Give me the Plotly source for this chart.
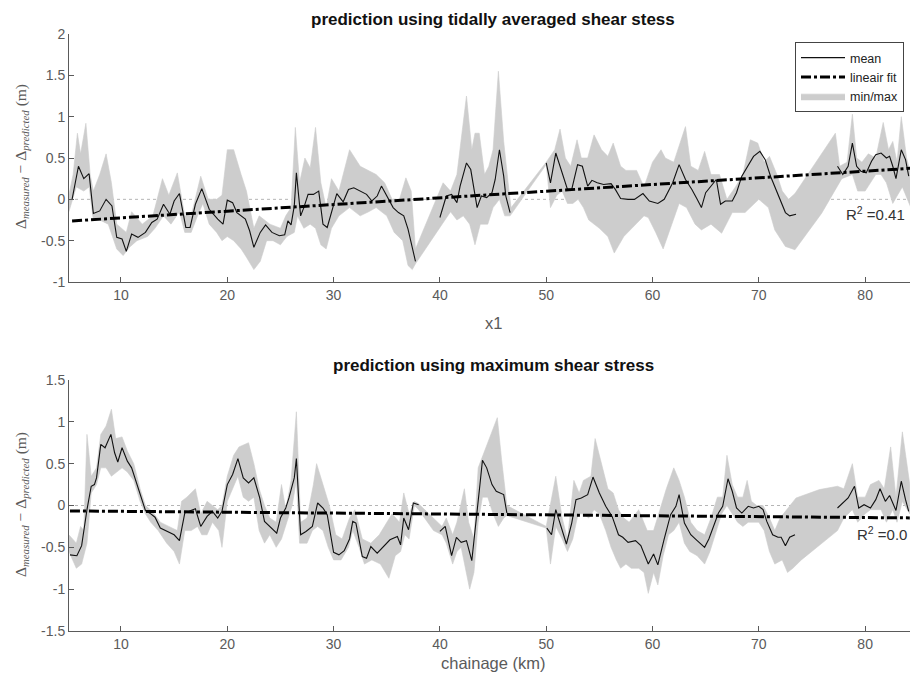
import plotly.graph_objects as go

# ---------------- data: top panel (tidally averaged shear stress) ----------------
top_mean_x = [5.4,6.0,6.5,7.0,7.4,8.0,8.6,9.15,9.6,10.1,10.5,11.0,11.6,12.3,12.9,13.4,14.0,14.6,15.0,15.5,
              16.1,16.5,17.0,17.6,18.3,19.1,19.6,20.0,20.5,20.9,21.7,22.1,22.5,23.1,23.6,24.2,24.9,25.4,25.7,26.0,
              26.3,26.5,26.9,27.2,27.6,28.1,28.6,29.0,29.4,29.9,30.3,30.9,31.4,31.9,32.5,33.1,33.6,34.1,34.5,35.0,
              35.6,36.1,36.6,37.0,37.7, None,
              40.0,40.6,41.1,41.6,41.9,42.5,42.9,43.3,43.5,43.9,44.4,44.9,45.2,45.6,46.0,46.2,46.6, None,
              50.0,50.4,50.9,51.5,52.0,52.4,52.95,53.4,53.9,54.3,54.8,55.4,56.1,56.5,57.0,57.7,58.3,59.1,59.7,60.5,
              61.1,61.9,62.5,63.1,63.7,64.2,64.6,65.0,65.5,66.0,66.4,66.85,67.5,67.9,68.4,69.0,69.5,70.1,70.6,71.1,
              71.7,72.1,72.5,72.9,73.5, None,
              77.4,77.9,78.4,78.8,79.2,79.6,80.1,80.6,81.0,81.5,82.0,82.3,82.6,82.9,83.4,83.8,84.1]
top_mean_y = [0.0,0.40,0.25,0.31,-0.17,-0.14,0.0,-0.08,-0.46,-0.48,-0.63,-0.42,-0.46,-0.40,-0.28,-0.24,-0.06,-0.18,-0.02,0.07,
              -0.34,-0.34,-0.06,0.13,-0.12,-0.24,-0.30,-0.01,-0.04,-0.16,-0.24,-0.38,-0.58,-0.40,-0.31,-0.40,-0.44,-0.43,-0.26,-0.31,
              -0.08,0.32,-0.20,-0.10,0.06,0.06,0.10,-0.30,-0.34,-0.11,0.07,-0.03,0.12,0.14,0.10,0.06,-0.02,0.04,0.16,0.04,
              -0.10,-0.16,-0.20,-0.36,-0.75, None,
              -0.22,0.04,0.06,-0.04,0.16,0.44,0.36,0.08,-0.10,0.04,0.02,0.08,0.24,0.60,0.28,0.04,-0.16, None,
              0.44,0.20,0.56,0.32,0.12,0.12,0.42,0.40,0.16,0.23,0.20,0.18,0.19,0.12,0.01,0.0,0.0,0.07,-0.02,-0.05,
              0.0,0.20,0.42,0.24,0.12,0.0,-0.10,0.08,0.16,0.24,-0.06,-0.02,-0.02,0.08,0.28,0.42,0.52,0.58,0.48,0.28,
              0.10,-0.02,-0.16,-0.20,-0.18, None,
              0.40,0.30,0.40,0.68,0.40,0.34,0.32,0.46,0.54,0.56,0.50,0.52,0.40,0.25,0.60,0.48,0.28]

top_upper_x = [5.1,5.5,5.9,6.2,6.7,7.1,7.4,8.0,8.6,9.1,9.6,10.5,11.0,12.0,13.0,13.9,14.5,15.3,16.0,16.6,
               17.5,18.2,19.0,19.5,20.0,20.6,21.3,21.8,22.5,23.0,24.0,25.0,25.5,26.0,26.4,26.8,27.3,27.8,28.3,28.8,
               29.3,29.8,30.5,31.5,32.5,33.2,34.0,34.8,35.5,36.2,36.8,37.3,37.7,40.3,41.0,41.6,42.5,43.0,43.3,43.7,
               44.2,44.6,45.0,45.5,46.0,46.5,46.7,50.0,50.8,51.3,51.8,52.3,52.9,53.3,53.9,54.5,55.2,55.8,56.3,57.0,
               57.5,58.5,59.2,60.0,60.8,61.2,62.0,63.1,63.6,64.3,64.9,65.5,66.3,67.0,67.8,68.5,69.2,69.9,70.5,71.0,
               71.7,72.2,72.8,73.4,77.2,77.6,78.3,78.8,79.2,79.7,80.3,81.0,81.7,82.2,82.6,83.0,83.4,83.9,84.3]
top_upper_y = [0.05,0.3,0.8,0.55,0.92,0.3,0.1,0.3,0.55,0.2,-0.3,-0.4,-0.15,-0.3,-0.2,0.25,0.05,0.32,-0.2,-0.2,
               0.28,0.0,0.0,0.05,0.6,0.6,0.3,0.1,-0.35,-0.2,-0.3,-0.35,-0.2,-0.1,0.87,0.2,0.5,0.38,0.87,0.2,
               -0.1,0.25,0.1,0.6,0.4,0.35,0.3,0.2,0.0,0.0,0.26,0.1,-0.6,0.2,0.1,0.3,1.25,0.6,0.8,0.8,
               0.3,0.4,0.6,1.55,0.7,0.1,-0.1,0.45,0.6,0.85,0.5,0.4,0.72,0.5,0.5,0.78,0.6,0.52,0.68,0.4,
               0.35,0.35,0.15,0.45,0.6,0.5,0.45,0.88,0.4,0.35,0.58,0.3,0.3,0.0,0.15,0.3,0.72,0.68,0.45,0.52,
               0.3,0.1,0.0,0.07,0.8,0.4,0.45,1.03,0.5,0.45,0.55,0.5,0.93,0.6,0.7,0.45,1.0,0.5,0.3]

top_lower_x = [5.1,5.8,6.5,7.0,7.4,8.0,8.8,9.2,9.6,10.2,10.8,11.5,12.5,13.2,14.0,14.7,15.5,16.0,16.6,17.2,
               17.7,18.3,19.0,19.5,20.0,20.6,21.3,21.8,22.5,23.1,23.7,24.3,25.0,25.6,26.3,26.6,27.2,27.8,28.3,28.8,
               29.3,29.8,30.5,31.5,32.5,33.3,34.0,35.0,35.7,36.5,37.0,37.4,37.7,40.2,41.0,41.6,42.2,42.8,43.3,43.8,
               44.5,45.0,45.6,46.1,46.6,50.0,50.4,51.0,51.5,52.0,52.5,53.0,53.5,54.0,55.0,55.8,56.4,57.3,58.0,59.2,
               59.6,60.3,61.0,61.8,62.5,63.2,64.0,64.6,65.5,66.5,67.5,68.7,70.0,70.9,71.5,72.5,73.4,75.9,77.8,78.8,
               79.3,80.0,80.5,81.0,81.5,82.0,82.6,83.0,83.5,84.3]
top_lower_y = [-0.15,0.15,0.1,0.15,-0.25,-0.25,-0.3,-0.45,-0.6,-0.68,-0.58,-0.5,-0.45,-0.35,-0.2,-0.3,-0.15,-0.4,-0.4,-0.2,
               -0.05,-0.3,-0.4,-0.5,-0.45,-0.5,-0.6,-0.7,-0.85,-0.75,-0.5,-0.5,-0.55,-0.45,-0.4,-0.2,-0.35,-0.3,-0.35,-0.55,
               -0.6,-0.35,-0.2,-0.1,-0.2,-0.15,-0.1,-0.2,-0.4,-0.5,-0.8,-0.85,-0.78,-0.3,-0.15,-0.25,-0.2,-0.3,-0.55,-0.3,
               -0.3,-0.1,0.0,-0.2,-0.2,0.42,-0.1,0.05,0.1,-0.05,-0.05,0.0,-0.1,-0.25,-0.35,-0.45,-0.65,-0.45,-0.35,-0.2,
               -0.22,-0.4,-0.6,-0.3,-0.05,-0.1,-0.3,-0.37,-0.3,-0.41,-0.16,-0.16,0.0,-0.1,-0.37,-0.57,-0.61,-0.17,0.25,0.3,
               0.1,0.1,0.2,0.3,0.3,0.2,-0.05,0.04,0.15,-0.1]

top_fit_slope = 0.00807
top_fit_intercept = -0.305
top_r2 = "0.41"

# ---------------- data: bottom panel (maximum shear stress) ----------------
bot_mean_x = [5.2,5.85,6.3,6.8,7.2,7.5,7.7,8.1,8.5,8.8,9.05,9.4,9.7,10.1,10.6,11.0,11.4,11.8,12.3,12.8,
              13.2,13.7,14.3,15.0,15.5,16.0,16.4,17.0,17.5,18.1,18.6,19.1,19.5,20.0,20.5,21.0,21.5,22.0,22.5,23.05,
              23.5,24.0,24.65,25.0,25.5,25.8,26.3,26.5,26.9,27.4,28.0,28.5,29.0,29.4,30.0,30.5,31.0,31.5,31.8,32.1,
              32.7,33.1,33.5,34.1,34.7,35.3,36.0,36.3,36.6,37.05,37.5,38.0, None,
              40.0,40.5,41.1,41.55,42.0,42.5,43.0,43.5,43.8,44.0,44.4,44.9,45.3,46.0,46.3, None,
              50.06,50.5,50.9,51.4,51.9,52.4,52.8,53.3,53.9,54.4,55.0,55.6,56.2,56.8,57.2,57.7,58.4,58.9,59.6,60.1,
              60.5,61.1,61.7,62.2,62.5,63.0,63.6,64.2,64.9,65.3,65.8,66.2,66.6,67.1,67.5,67.9,68.4,69.0,69.5,70.0,
              70.4,70.75,71.3,71.8,72.1,72.5,72.9,73.4, None,
              77.4,77.9,78.4,79.0,79.4,79.9,80.5,81.0,81.4,81.9,82.3,82.9,83.4,83.8,84.1]
bot_mean_y = [-0.59,-0.60,-0.48,-0.05,0.23,0.25,0.33,0.73,0.69,0.79,0.85,0.63,0.52,0.69,0.53,0.45,0.29,0.12,-0.06,-0.10,
              -0.14,-0.27,-0.31,-0.35,-0.42,-0.09,-0.07,-0.04,-0.25,-0.13,-0.07,-0.15,-0.07,0.25,0.37,0.56,0.33,0.27,0.33,0.09,
              -0.19,-0.25,-0.33,-0.15,-0.03,0.09,0.33,0.56,-0.35,-0.31,-0.25,0.03,-0.03,-0.11,-0.56,-0.59,-0.54,-0.40,-0.19,-0.21,
              -0.61,-0.63,-0.49,-0.57,-0.49,-0.41,-0.37,-0.47,-0.15,-0.29,0.03,0.01, None,
              -0.31,-0.25,-0.60,-0.38,-0.44,-0.42,-0.66,-0.11,0.29,0.54,0.45,0.25,0.17,0.13,-0.09, None,
              -0.27,-0.35,-0.05,-0.27,-0.46,-0.21,0.07,0.09,0.13,0.34,0.15,-0.01,-0.13,-0.35,-0.38,-0.44,-0.42,-0.48,-0.70,-0.58,
              -0.71,-0.40,-0.11,-0.01,0.13,-0.21,-0.35,-0.42,-0.50,-0.40,-0.23,-0.09,-0.01,0.32,0.17,-0.03,-0.09,-0.01,-0.03,-0.01,
              -0.05,-0.19,-0.35,-0.38,-0.38,-0.48,-0.38,-0.35, None,
              -0.03,0.03,0.09,0.23,-0.03,0.01,-0.03,0.07,0.20,0.05,0.12,-0.06,0.29,0.07,-0.07]

bot_upper_x = [5.1,5.8,6.2,6.5,6.8,7.2,7.7,8.1,8.6,9.1,9.5,10.1,10.6,11.2,11.8,12.3,13.0,13.7,14.5,15.3,
               15.7,16.2,17.0,17.5,18.1,18.6,19.1,19.5,20.0,20.6,21.1,22.0,22.5,23.0,23.5,24.0,24.6,25.1,25.5,26.0,
               26.5,26.9,27.5,28.1,28.4,29.0,29.6,30.2,30.8,31.5,32.0,32.7,33.5,34.3,35.0,35.5,36.2,36.6,37.1,37.6,
               38.0,39.4,40.2,40.6,41.2,41.6,42.3,42.7,43.2,43.6,44.5,45.4,45.8,46.3,50.0,50.9,51.5,52.0,52.6,53.1,
               53.5,54.2,54.6,55.2,55.8,56.3,56.8,57.3,57.8,58.7,59.5,60.1,60.6,61.3,62.0,62.5,63.0,63.6,64.2,64.9,
               65.5,66.1,66.6,67.0,67.5,68.0,68.5,68.9,69.3,69.8,70.4,71.0,71.5,72.0,73.5,75.7,77.4,78.0,78.8,79.3,
               80.0,80.5,81.3,81.8,82.4,82.9,83.5,84.2]
bot_upper_y = [-0.35,-0.45,-0.25,-0.3,0.85,0.35,0.45,0.85,0.95,1.15,0.8,0.82,0.65,0.5,0.2,0.0,-0.08,-0.2,-0.25,-0.3,
               0.05,0.1,0.2,-0.1,0.05,0.0,-0.05,0.0,0.35,0.6,0.7,0.75,0.5,0.2,0.0,-0.15,-0.2,0.25,-0.05,0.3,
               1.12,-0.2,-0.15,0.25,0.5,0.25,0.0,-0.35,-0.4,-0.15,-0.05,-0.4,-0.45,-0.35,-0.2,-0.1,-0.2,0.15,-0.1,0.05,
               0.02,-0.15,-0.25,-0.15,-0.35,-0.2,0.2,-0.2,-0.4,0.45,0.75,1.05,0.55,0.0,-0.25,0.35,-0.15,-0.4,0.3,0.15,
               0.3,0.35,0.8,0.5,0.2,0.15,-0.05,-0.15,-0.2,-0.05,-0.3,-0.3,-0.1,0.2,0.45,0.3,0.1,-0.2,-0.3,-0.35,
               -0.15,0.1,0.1,0.6,0.25,0.1,0.1,0.3,0.05,0.0,0.0,-0.15,-0.3,-0.15,0.09,0.19,0.23,0.2,0.5,0.1,
               0.1,0.25,0.3,0.2,0.7,0.1,0.88,0.25]

bot_lower_x = [5.1,5.8,6.3,6.8,7.2,7.7,8.1,8.6,9.1,9.6,10.1,10.6,11.2,11.8,12.3,12.8,13.5,14.3,15.0,15.5,
               16.0,16.6,17.2,17.6,18.1,18.6,19.2,19.5,20.0,20.5,21.0,21.5,22.0,22.5,23.0,23.5,24.0,24.6,25.1,25.6,
               26.1,26.5,26.8,27.5,28.0,28.5,29.0,29.5,30.0,30.7,31.4,31.8,32.4,32.9,33.6,34.4,35.2,35.8,36.3,36.7,
               37.1,37.6,38.0,39.4,40.2,40.6,41.2,41.6,42.0,42.5,42.8,43.2,43.6,44.0,44.5,45.0,45.5,46.0,46.3,50.0,
               50.4,50.9,51.5,52.0,52.5,53.0,53.5,54.0,54.5,55.0,55.6,56.1,56.6,57.0,57.5,58.0,58.7,59.2,59.6,60.1,
               60.5,61.0,61.5,62.0,62.5,63.0,63.5,64.2,64.9,65.4,66.0,66.5,67.0,67.5,68.0,68.5,69.0,69.5,70.0,70.5,
               71.0,71.5,72.2,72.7,73.2,74.0,77.4,78.0,78.8,79.3,80.0,80.5,81.0,81.5,82.0,82.6,83.0,83.5,84.2]
bot_lower_y = [-0.55,-0.75,-0.7,-0.45,0.15,0.25,0.45,0.45,0.35,0.4,0.45,0.4,0.3,0.05,-0.1,-0.2,-0.3,-0.45,-0.55,-0.7,
               -0.3,-0.3,-0.25,-0.35,-0.35,-0.2,-0.3,-0.5,0.05,0.2,0.35,0.1,0.05,0.1,-0.3,-0.45,-0.35,-0.5,-0.4,-0.2,
               0.0,0.3,-0.45,-0.45,-0.3,-0.25,-0.3,-0.5,-0.65,-0.65,-0.5,-0.3,-0.5,-0.7,-0.65,-0.7,-0.87,-0.6,-0.55,-0.35,
               -0.4,0.0,-0.05,-0.3,-0.35,-0.45,-0.7,-0.55,-0.5,-0.8,-1.0,-0.8,-0.2,0.1,0.1,-0.1,-0.25,-0.15,-0.12,-0.27,
               -0.7,-0.25,-0.4,-0.55,-0.4,-0.1,-0.1,-0.15,-0.05,-0.1,-0.3,-0.5,-0.65,-0.75,-0.7,-0.75,-0.75,-0.8,-1.05,-0.8,
               -0.95,-0.6,-0.35,-0.3,-0.2,-0.45,-0.55,-0.6,-0.7,-0.55,-0.3,-0.1,0.0,-0.1,-0.2,-0.25,-0.2,-0.2,-0.2,-0.3,
               -0.55,-0.7,-0.65,-0.8,-0.75,-0.65,-0.3,-0.15,-0.05,-0.2,-0.1,-0.05,-0.05,-0.05,-0.2,-0.05,-0.2,0.05,-0.1]

bot_fit_slope = -0.00106
bot_fit_intercept = -0.059
bot_r2 = "0.0"

x_ticks = [10, 20, 30, 40, 50, 60, 70, 80]
top_y_ticks = [-1, -0.5, 0, 0.5, 1, 1.5, 2]
bot_y_ticks = [-1.5, -1, -0.5, 0, 0.5, 1, 1.5]

titles = ["prediction using tidally averaged shear stess", "prediction using maximum shear stress"]
x_titles = ["x1", "chainage (km)"]
y_title = "Δ<sub><i>measured</i></sub> − Δ<sub><i>predicted</i></sub> (m)"
legend_names = ["mean", "lineair fit", "min/max"]

# ---------------- figure ----------------
W, H = 910, 679
L = 69
X_RANGE = [5.11, 84.22]
BAND = "rgb(205,205,205)"
AX = "#5a5a5a"
SANS = "Liberation Sans, Arial, sans-serif"

fig = go.Figure()

panels = [
    dict(mx=top_mean_x, my=top_mean_y, ux=top_upper_x, uy=top_upper_y, lx=top_lower_x, ly=top_lower_y,
         s=top_fit_slope, b=top_fit_intercept, r2=top_r2, xa="x", ya="y", leg=True),
    dict(mx=bot_mean_x, my=bot_mean_y, ux=bot_upper_x, uy=bot_upper_y, lx=bot_lower_x, ly=bot_lower_y,
         s=bot_fit_slope, b=bot_fit_intercept, r2=bot_r2, xa="x2", ya="y2", leg=False),
]

for p in panels:
    fig.add_trace(go.Scatter(x=p["ux"] + p["lx"][::-1], y=p["uy"] + p["ly"][::-1],
                             fill="toself", fillcolor=BAND, line=dict(width=0.6, color=BAND),
                             mode="lines", name=legend_names[2], showlegend=p["leg"], legendrank=3,
                             xaxis=p["xa"], yaxis=p["ya"], hoverinfo="skip"))
    fig.add_trace(go.Scatter(x=p["mx"], y=p["my"], mode="lines",
                             line=dict(color="#111111", width=1.1), name=legend_names[0],
                             showlegend=p["leg"], legendrank=1, connectgaps=False,
                             xaxis=p["xa"], yaxis=p["ya"]))
    xs = [v for v in p["mx"] if v is not None]
    fx = [min(xs), max(p["ux"])]
    fy = [p["s"] * v + p["b"] for v in fx]
    fig.add_trace(go.Scatter(x=fx, y=fy, mode="lines",
                             line=dict(color="black", width=3, dash="10px,3px,3px,3px"),
                             name=legend_names[1], showlegend=p["leg"], legendrank=2,
                             xaxis=p["xa"], yaxis=p["ya"]))

def py(px):
    return 1 - px / H

top_dom = [py(282), py(34)]
bot_dom = [py(631), py(380)]

axis_common = dict(showline=True, linecolor=AX, linewidth=1, ticks="inside", ticklen=5,
                   tickcolor=AX, showgrid=False, zeroline=False, automargin=False,
                   tickfont=dict(family=SANS, size=14, color=AX))

fig.update_layout(
    width=W, height=H,
    margin=dict(l=L, r=0, t=0, b=0, pad=0, autoexpand=False),
    plot_bgcolor="white", paper_bgcolor="white",
    xaxis=dict(domain=[0, 1], range=X_RANGE, anchor="y", tickvals=x_ticks,
               ticktext=[str(v) for v in x_ticks], **axis_common),
    yaxis=dict(domain=top_dom, range=[-1, 2], anchor="x", tickvals=top_y_ticks,
               ticktext=[("%g" % v) for v in top_y_ticks], **axis_common),
    xaxis2=dict(domain=[0, 1], range=X_RANGE, anchor="y2", tickvals=x_ticks,
                ticktext=[str(v) for v in x_ticks], **axis_common),
    yaxis2=dict(domain=bot_dom, range=[-1.5, 1.5], anchor="x2", tickvals=bot_y_ticks,
                ticktext=[("%g" % v) for v in bot_y_ticks], **axis_common),
    showlegend=True,
    legend=dict(x=(795 - L) / (W - L), y=py(42), xanchor="left", yanchor="top",
                bgcolor="white", bordercolor="#444", borderwidth=1,
                font=dict(family=SANS, size=12.5, color="#222"),
                tracegroupgap=0, itemwidth=44),
)

# dotted zero reference lines
for xr, yr in (("x domain", "y"), ("x2 domain", "y2")):
    fig.add_shape(type="line", xref=xr, yref=yr, x0=0, x1=1, y0=0, y1=0,
                  line=dict(color="#b5b5b5", width=1, dash="dot"), layer="below")

title_font = dict(family=SANS, size=17, color="#111")
lab_font = dict(family=SANS, size=16.5, color=AX)
cx = (493 - L) / (W - L)
for t, ypx in zip(titles, (19, 365)):
    fig.add_annotation(text="<b>%s</b>" % t, xref="paper", yref="paper", x=cx, y=py(ypx),
                       showarrow=False, xanchor="center", yanchor="middle", font=title_font)
for t, ypx in zip(x_titles, (323, 663)):
    fig.add_annotation(text=t, xref="paper", yref="paper", x=cx, y=py(ypx),
                       showarrow=False, xanchor="center", yanchor="middle", font=lab_font)
for ypx in (157, 505):
    fig.add_annotation(text=y_title, xref="paper", yref="paper", x=(21 - L) / (W - L), y=py(ypx),
                       showarrow=False, xanchor="center", yanchor="middle", textangle=-90,
                       font=dict(family="Liberation Serif, DejaVu Serif, serif", size=15.5, color=AX))

# R^2 labels
fig.add_annotation(text="R<sup>2</sup> =" + top_r2, xref="x", yref="y", x=78.0, y=-0.17,
                   showarrow=False, xanchor="left", yanchor="middle",
                   font=dict(family=SANS, size=15, color="#333"))
fig.add_annotation(text="R<sup>2</sup> =" + bot_r2, xref="x2", yref="y2", x=79.0, y=-0.34,
                   showarrow=False, xanchor="left", yanchor="middle",
                   font=dict(family=SANS, size=15, color="#333"))

fig.write_html("out.html", config={"displayModeBar": False},
               post_script="document.body.style.margin='0px';document.body.style.overflow='hidden';")
